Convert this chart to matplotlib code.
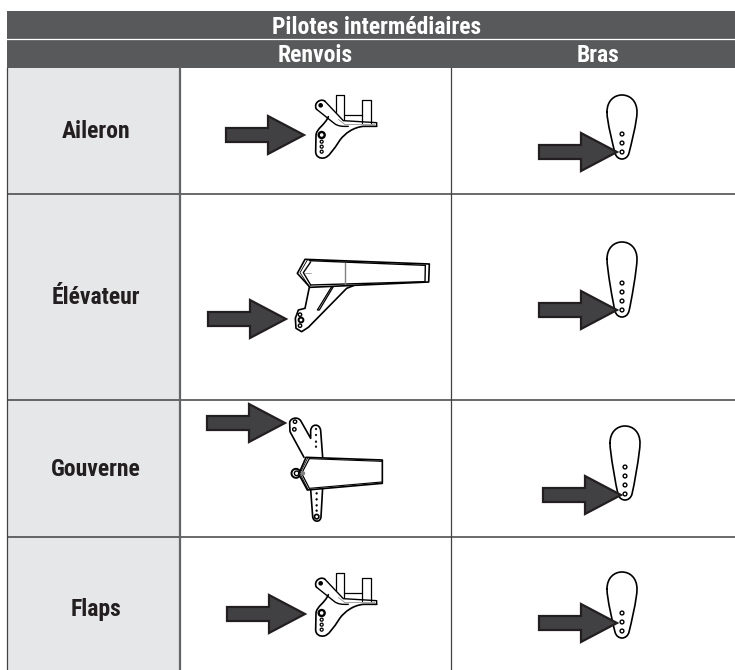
import matplotlib
matplotlib.use("Agg")
import matplotlib.pyplot as plt
from matplotlib.patches import Rectangle, Polygon, Circle, PathPatch
from matplotlib.path import Path
from matplotlib import font_manager as fm

# ---- content ----
title = "Pilotes intermédiaires"
columns = ["Renvois", "Bras"]
rows = ["Aileron", "Élévateur", "Gouverne", "Flaps"]
row_edges = [68, 193.5, 400, 537, 670]
row_label_base = [138, 304, 476, 616]
# arrow tips (x, y)
link_arrows = [(304, 135), (286, 319), (285, 423), (305, 614)]
arm_arrows = [(617, 152), (617, 310), (621, 495), (617, 623)]
# servo arms: centre x, top y, bottom y, hole y positions
arm_cx = [622, 622, 625, 622]
arm_top = [95, 242, 426, 572]
arm_bot = [159, 317, 500, 638]
arm_holes = [[134, 143, 152], [283, 292, 301, 310], [467, 476, 485, 494], [613, 622, 631]]

HEAD = "#58595b"
SHADE = "#e6e7e8"
DARK = "#231f20"
ARROW = "#414042"

names = {f.name for f in fm.fontManager.ttflist}
FONT = next((n for n in ["Roboto Condensed", "Archivo Narrow", "Liberation Sans Narrow", "Liberation Sans"] if n in names), "DejaVu Sans")

fig = plt.figure(figsize=(7.35, 6.7), dpi=100)
ax = fig.add_axes([0, 0, 1, 1])
ax.set_xlim(0, 735)
ax.set_ylim(670, 0)
ax.axis("off")

# table frame
ax.add_patch(Rectangle((7, 68), 173, 602, fc=SHADE, ec="none"))
ax.add_patch(Rectangle((7, 11), 728, 57, fc=HEAD, ec="none"))
ax.plot([7, 735], [39.2, 39.2], color="white", lw=0.9)
for y in row_edges[1:-1]:
    ax.plot([7, 735], [y, y], color="#414042", lw=1.1, solid_capstyle="butt")
ax.plot([7.5, 7.5], [68, 670], color="#414042", lw=0.9)
ax.plot([180, 180], [68, 670], color="#636466", lw=1.6)
ax.plot([451, 451], [68, 670], color="#414042", lw=0.9)

txt = dict(family=FONT, weight="bold", ha="center", va="baseline")
ax.text(377, 33.5, title, color="white", fontsize=17, **txt)
ax.text(315, 61.5, columns[0], color="white", fontsize=17, **txt)
ax.text(598.5, 61.5, columns[1], color="white", fontsize=17, **txt)
for lab, y in zip(rows, row_label_base):
    ax.text(96, y, lab, color=DARK, fontsize=17, **txt)


def arrow(tip):
    tx, ty = tip
    pts = [(tx - 78, ty - 7), (tx - 36, ty - 7), (tx - 36, ty - 19), (tx, ty),
           (tx - 36, ty + 19), (tx - 36, ty + 7), (tx - 78, ty + 7)]
    ax.add_patch(Polygon(pts, closed=True, fc=ARROW, ec=DARK, lw=1.6, joinstyle="miter", zorder=5))


def curve(verts, lw=1.0, color="black", fc="none", closed=False, zorder=3):
    """verts: first point, then 2-tuples (line to) or 6-tuples (Bezier to)."""
    codes, pts = [Path.MOVETO], [verts[0]]
    for v in verts[1:]:
        if len(v) == 6:
            pts += [v[0:2], v[2:4], v[4:6]]
            codes += [Path.CURVE4] * 3
        else:
            pts.append(v)
            codes.append(Path.LINETO)
    if closed:
        pts.append(verts[0])
        codes.append(Path.CLOSEPOLY)
    ax.add_patch(PathPatch(Path(pts, codes), fc=fc, ec=color, lw=lw, zorder=zorder, joinstyle="round", capstyle="round"))


def hole(x, y, r=1.9, lw=1.0, fc="white", color="black", zorder=4):
    ax.add_patch(Circle((x, y), r, fc=fc, ec=color, lw=lw, zorder=zorder))


def servo_arm(cx, top, bot, holes):
    w = top + 17
    curve([(cx - 15, w),
           (cx - 15, top + 6, cx - 8, top, cx, top),
           (cx + 8, top, cx + 15, top + 6, cx + 15, w),
           (cx + 15, w + 10, cx + 9, bot - 14, cx + 7, bot - 6),
           (cx + 6, bot - 2, cx + 3, bot, cx, bot),
           (cx - 3, bot, cx - 6, bot - 2, cx - 7, bot - 6),
           (cx - 9, bot - 14, cx - 15, w + 10, cx - 15, w)], lw=1.2)
    for y in holes:
        hole(cx, y)


def bellcrank(dy):
    z = lambda x, y: (x / 3, y / 3 + dy)
    def c(*p):
        out = []
        for i in range(0, len(p), 2):
            out += list(z(p[i], p[i + 1]))
        return tuple(out)
    curve([z(985, 350), c(975, 375, 950, 385, 948, 405), z(947, 455),
           c(947, 470, 960, 476, 970, 474), c(985, 474, 1000, 450, 1020, 420),
           c(1035, 400, 1060, 382, 1090, 379), z(1130, 379)], lw=1.2)
    curve([z(975, 304), z(1030, 362), z(1130, 368), z(1130, 379)], lw=1.0)
    curve([z(950, 328), z(1005, 372), c(1015, 378, 1025, 380, 1045, 379)], lw=1.0)
    curve([z(1015, 358), z(1035, 374), z(1125, 373)], lw=0.5, color="#808285")
    curve([z(975, 304), c(965, 295, 945, 305, 947, 320), c(947, 326, 950, 328, 950, 328)], lw=1.2)
    hole(*z(962, 316), r=1.6, fc="black")
    curve([z(1008, 335), z(1008, 285), z(1032, 285), z(1032, 360)], lw=0.9)
    curve([z(1032, 345), z(1087, 345)], lw=0.9)
    curve([z(1087, 368), z(1087, 300), z(1112, 300), z(1112, 368)], lw=0.9)
    hole(*z(965, 405), r=3, lw=1.7)
    for y in (425, 440, 455):
        hole(*z(965, y), r=1.5, lw=0.9)


def elevator():
    z = lambda x, y: (190 + x / 3, 240 + y / 3)
    curve([z(345, 58), z(718, 72), z(716, 126), z(360, 142), z(322, 100)], closed=True, lw=1.2, fc="white")
    curve([z(358, 62), z(706, 76), z(705, 125), z(362, 135)], lw=1.0)
    curve([z(362, 66), z(340, 98), z(362, 135)], lw=1.0)
    curve([z(352, 60), z(330, 98), z(358, 140)], lw=0.6)
    curve([z(345, 100), z(362, 100)], lw=0.5, color="#808285")
    curve([z(465, 70), z(465, 132)], lw=1.0, color="#808285")
    curve([z(358, 142), z(345, 205), z(325, 210), z(316, 235), z(318, 265), z(335, 275),
           z(355, 262), z(470, 145), z(490, 137)], lw=1.2)
    curve([z(425, 140), z(382, 210), z(388, 210), z(430, 140)], lw=0.9, closed=True)
    hole(*z(330, 224), r=1.7)
    hole(*z(333, 240), r=2.4, lw=1.4)
    hole(*z(330, 257), r=1.7)


def rudder():
    z = lambda x, y: (190 + x / 3, 400 + y / 3)
    def c(*p):
        out = []
        for i in range(0, len(p), 2):
            out += list(z(p[i], p[i + 1]))
        return tuple(out)
    curve([z(342, 172), z(300, 95), z(299, 68), c(300, 55, 322, 48, 332, 62),
           z(362, 115), z(362, 92), c(364, 70, 390, 70, 392, 92), z(398, 172)], lw=1.2)
    curve([z(362, 268), z(368, 350), c(370, 368, 392, 368, 393, 350), z(398, 262)], lw=1.2)
    hole(*z(315, 65), r=1.7)
    hole(*z(313, 88), r=1.7)
    for y in (87, 105, 125, 140):
        hole(*z(378, y), r=0.9, fc="black", lw=0.3)
    for y in (280, 298, 316, 332):
        hole(*z(380, y), r=0.9, fc="black", lw=0.3)
    hole(*z(380, 350), r=2.2, lw=1.2)
    hole(*z(318, 220), r=4.5, lw=1.4, zorder=3)
    hole(*z(320, 220), r=2.3, lw=1.0, zorder=3)
    curve([z(348, 172), z(577, 180), z(577, 250), z(352, 270), z(326, 222)], closed=True, lw=1.2, fc="white", zorder=4)
    curve([z(358, 176), z(575, 184)], lw=0.8, zorder=4)
    curve([z(358, 265), z(575, 246)], lw=0.8, zorder=4)
    curve([z(358, 176), z(335, 220), z(358, 265)], lw=0.9, zorder=4)
    curve([z(353, 174), z(330, 220), z(354, 268)], lw=0.6, zorder=4)
    hole(*z(339, 220), r=1.5, fc="#808285", color="#808285", zorder=4)


bellcrank(0)
elevator()
rudder()
bellcrank(478)

for cx, t, b, h in zip(arm_cx, arm_top, arm_bot, arm_holes):
    servo_arm(cx, t, b, h)
for tip in link_arrows + arm_arrows:
    arrow(tip)

fig.savefig("out.png", dpi=100)
